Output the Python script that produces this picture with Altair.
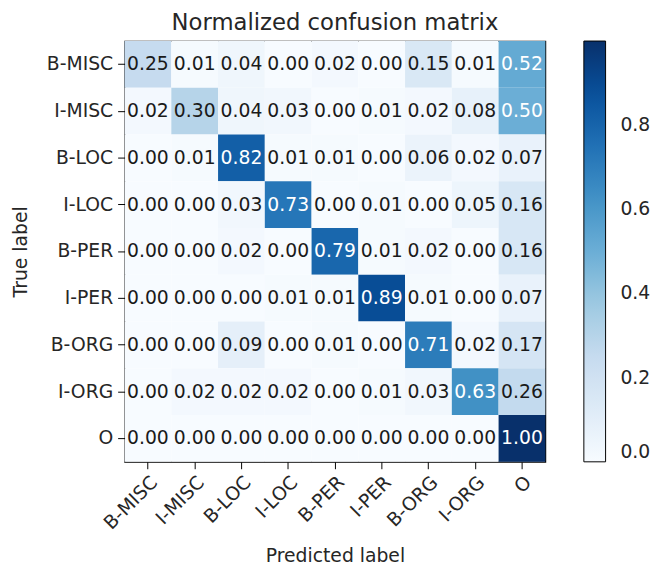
import altair as alt
import pandas as pd

labels = ["B-MISC", "I-MISC", "B-LOC", "I-LOC", "B-PER", "I-PER", "B-ORG", "I-ORG", "O"]
matrix = [
    [0.25, 0.01, 0.04, 0.00, 0.02, 0.00, 0.15, 0.01, 0.52],
    [0.02, 0.30, 0.04, 0.03, 0.00, 0.01, 0.02, 0.08, 0.50],
    [0.00, 0.01, 0.82, 0.01, 0.01, 0.00, 0.06, 0.02, 0.07],
    [0.00, 0.00, 0.03, 0.73, 0.00, 0.01, 0.00, 0.05, 0.16],
    [0.00, 0.00, 0.02, 0.00, 0.79, 0.01, 0.02, 0.00, 0.16],
    [0.00, 0.00, 0.00, 0.01, 0.01, 0.89, 0.01, 0.00, 0.07],
    [0.00, 0.00, 0.09, 0.00, 0.01, 0.00, 0.71, 0.02, 0.17],
    [0.00, 0.02, 0.02, 0.02, 0.00, 0.01, 0.03, 0.63, 0.26],
    [0.00, 0.00, 0.00, 0.00, 0.00, 0.00, 0.00, 0.00, 1.00],
]
blues = ["#f7fbff", "#deebf7", "#c6dbef", "#9ecae1", "#6baed6",
         "#4292c6", "#2171b5", "#08519c", "#08306b"]
stops = [0, 0.125, 0.25, 0.375, 0.5, 0.625, 0.75, 0.875, 1.0]
legend_ticks = [0.0, 0.2, 0.4, 0.6, 0.8]

rows = []
for i, t in enumerate(labels):
    for j, p in enumerate(labels):
        rows.append({"true": t, "pred": p, "value": matrix[i][j]})
df = pd.DataFrame(rows)

FONT = "DejaVu Sans"
FS = 19

base = alt.Chart(df).encode(
    x=alt.X("pred:N", sort=labels, title="Predicted label",
            scale=alt.Scale(paddingInner=0, paddingOuter=0),
            axis=alt.Axis(labelAngle=-45, labelAlign="right", labelBaseline="top",
                          labelFontSize=FS, titleFontSize=FS, labelFont=FONT, titleFont=FONT,
                          labelColor="#262626", titleColor="#262626",
                          tickSize=7, tickColor="black", labelPadding=4, titlePadding=14,
                          domain=False, grid=False, titleFontWeight="normal")),
    y=alt.Y("true:N", sort=labels, title="True label",
            scale=alt.Scale(paddingInner=0, paddingOuter=0),
            axis=alt.Axis(labelFontSize=FS, titleFontSize=FS, labelFont=FONT, titleFont=FONT,
                          labelColor="#262626", titleColor="#262626",
                          tickSize=7, tickColor="black", labelPadding=5, titlePadding=16,
                          domain=False, grid=False, titleFontWeight="normal")),
)

rect = base.mark_rect().encode(
    color=alt.Color("value:Q",
                    scale=alt.Scale(domain=stops, range=blues, interpolate="rgb"),
                    legend=alt.Legend(title=None, orient="none", legendX=465, legendY=0,
                                      direction="vertical", gradientLength=426,
                                      gradientThickness=22, gradientStrokeColor="black",
                                      gradientStrokeWidth=1, values=legend_ticks,
                                      format=".1f", labelFontSize=FS, labelFont=FONT,
                                      labelColor="#262626", labelOffset=15,
                                      labelBaseline="middle", labelOverlap=False))
)

text = base.mark_text(fontSize=FS, font=FONT).encode(
    text=alt.Text("value:Q", format=".2f"),
    color=alt.condition("datum.value > 0.495", alt.value("white"), alt.value("#1a1a1a")),
)

chart = (rect + text).properties(
    width=426, height=426,
    title=alt.TitleParams("Normalized confusion matrix", fontSize=23, font=FONT,
                          fontWeight="normal", color="#262626", offset=6),
    autosize=alt.AutoSizeParams(type="none"),
    padding={"left": 118, "top": 30, "right": 109, "bottom": 101},
).configure_view(stroke="black", strokeWidth=1.2)

chart.save("out.html", embed_options={"renderer": "svg", "actions": False})
